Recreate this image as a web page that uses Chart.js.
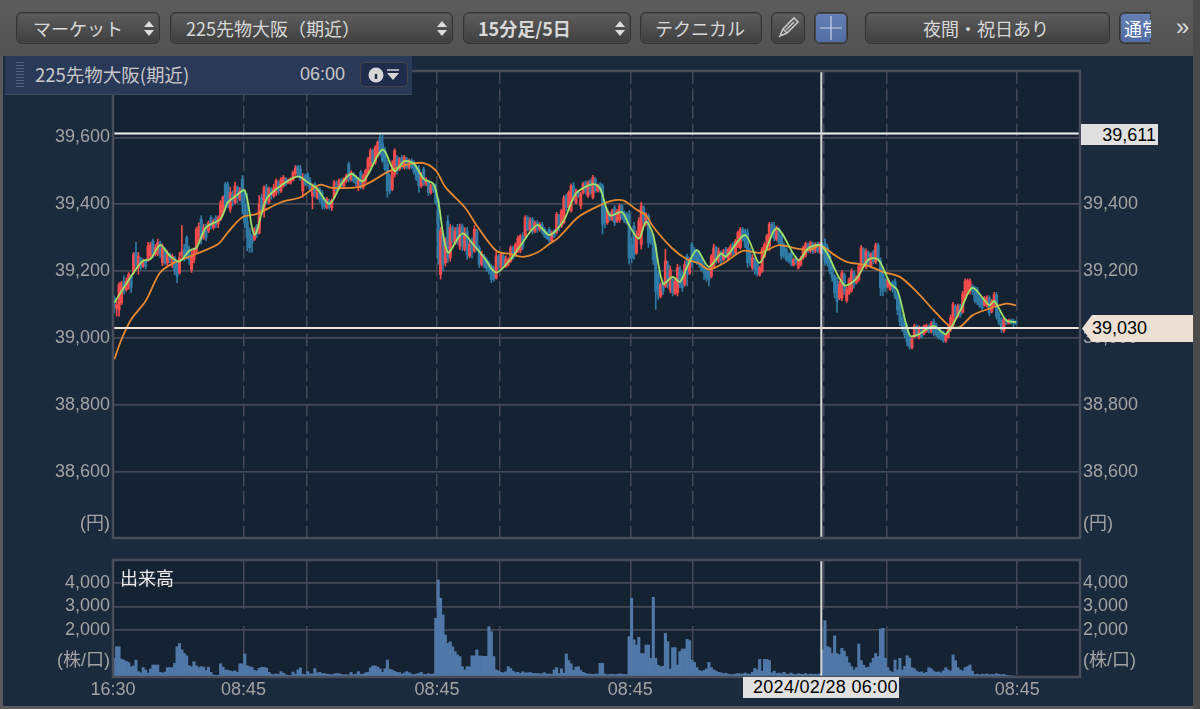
<!DOCTYPE html>
<html lang="ja"><head><meta charset="utf-8">
<script src="https://cdn.jsdelivr.net/npm/chart.js@4"></script>
<style>
html,body{margin:0;padding:0;width:1200px;height:709px;overflow:hidden;background:#5a5a5a}
#app{position:relative;width:1200px;height:709px;font-family:"Liberation Sans","Noto Sans CJK JP",sans-serif;overflow:hidden}
#toolbar{position:absolute;left:0;top:0;width:1200px;height:56px;background:linear-gradient(#5c5c5c,#525252)}
#panel{position:absolute;left:3px;top:56px;width:1190px;height:650px;background:#1b2a3d}
#edge{position:absolute;left:1193px;top:0;width:7px;height:709px;background:#4b4b4b}
canvas{position:absolute;left:0}
.btn{position:absolute;top:12px;height:32px;box-sizing:border-box;border:1px solid #333;border-radius:6px;background:linear-gradient(#5d5d5d,#3f3f3f);color:#d8d8d8;font:18px/30px "Noto Sans CJK JP",sans-serif;white-space:nowrap;box-shadow:0 0 0 1px #4a4a4a inset}
.btn.on{background:linear-gradient(#6580b4,#4f6ca3)}
.btn span.t{position:absolute;top:0}
.ud{position:absolute;top:8px;width:0;height:0}
.ud:before,.ud:after{content:"";position:absolute;left:-5px;border-left:5px solid transparent;border-right:5px solid transparent}
.ud:before{top:0;border-bottom:6px solid #ddd}.ud:after{top:9px;border-top:6px solid #ddd}
#info{position:absolute;left:5px;top:56px;width:407px;height:39px;background:#2b3958;border-bottom:1px solid #3d4a68;box-sizing:border-box;color:#c8c8c8}
#info .a{position:absolute;left:30px;top:5px;font:18.5px/26px "Noto Sans CJK JP",sans-serif}
#info .b{position:absolute;left:295px;top:7px;font:18px/22px "Liberation Sans",sans-serif}
#info .c{position:absolute;left:355px;top:6px;width:48px;height:25px;box-sizing:border-box;border:1px solid #454545;border-radius:5px;background:#1f2c4e}
#grip{position:absolute;left:11px;top:6px;width:8px;height:26px;background:repeating-linear-gradient(#56617c 0 1px,transparent 1px 3px)}
.lab{position:absolute;color:#000;font:18px/20px "Liberation Sans",sans-serif;white-space:nowrap}
</style></head><body>
<div id="app">
<div id="toolbar">
 <div class="btn" style="left:16px;width:144px"><span class="t" style="left:16px">マーケット</span><i class="ud" style="left:132px"></i></div>
 <div class="btn" style="left:170px;width:283px"><span class="t" style="left:15px">225先物大阪（期近）</span><i class="ud" style="left:271px"></i></div>
 <div class="btn" style="left:463px;width:168px"><span class="t" style="left:14px;font-weight:700">15分足/5日</span><i class="ud" style="left:156px"></i></div>
 <div class="btn" style="left:640px;width:122px"><span class="t" style="left:14px">テクニカル</span></div>
 <div class="btn" style="left:771px;width:34px"><svg width="32" height="30" style="position:absolute;left:0;top:0"><path d="M8 23l3-7 11-11 4 4-11 11zM11 16l4 4M14 17l8-8" fill="none" stroke="#c8c8c8" stroke-width="1.6"/></svg></div>
 <div class="btn on" style="left:814px;width:34px"><svg width="32" height="30" style="position:absolute;left:0;top:0"><path d="M16 3v24M5 15h22" stroke="#c9d2e6" stroke-width="1.2"/></svg></div>
 <div class="btn" style="left:865px;width:245px"><span class="t" style="left:57px">夜間・祝日あり</span></div>
 <div class="btn on" style="left:1119px;width:32px;border-right:0;border-radius:6px 0 0 6px;overflow:hidden;color:#fff"><span class="t" style="left:4px">通常</span></div>
 <div style="position:absolute;left:1176px;top:13px;color:#ddd;font:24px/28px 'Liberation Sans',sans-serif">»</div>
</div>
<div id="panel"></div>
<canvas id="priceChart" width="1200" height="485" style="top:60px"></canvas>
<canvas id="volumeChart" width="1200" height="159" style="top:550px"></canvas>
<div id="info"><div id="grip"></div><div class="a">225先物大阪(期近)</div><div class="b">06:00</div>
 <div class="c"><svg width="46" height="23"><circle cx="15" cy="12" r="7.5" fill="#d6d6d6"/><path d="M15 8.2v.1M15 11v5" stroke="#1f2c4e" stroke-width="2.4"/><path d="M26 7h12" stroke="#d6d6d6" stroke-width="1.5"/><path d="M26 10h12l-6 7z" fill="#d6d6d6"/></svg></div></div>
<div style="position:absolute;left:120px;top:565px;color:#eee;font:18px/24px 'Noto Sans CJK JP',sans-serif">出来高</div>
<div class="lab" style="left:1081px;top:124px;width:77px;height:21px;background:#e0e0e0;text-align:right;line-height:22px;padding-right:2px;box-sizing:border-box">39,611</div>
<div class="lab" style="left:1082px;top:315px;width:112px;height:27px;background:#ebe0d3;clip-path:polygon(0 50%,10px 0,100% 0,100% 100%,10px 100%);line-height:27px;text-indent:10px">39,030</div>
<div class="lab" style="left:743px;top:677px;width:156px;height:21px;background:#e0e0e0;line-height:21px;text-indent:10px;letter-spacing:.3px">2024/02/28 06:00</div>
<div id="edgeb" style="position:absolute;left:0;top:706px;width:1200px;height:3px;background:#5a5a5a"></div>
<div id="edge"></div>
</div>
<script>
const opens=[
39120,39090,39085,39105,39170,39145,39155,39185,39195,39255,
39210,39240,39215,39232,39235,39245,39290,39250,39255,39285,
39225,39265,39225,39250,39220,39240,39225,39195,39245,39265,
39300,39265,39205,39235,39260,39300,39355,39300,39335,39320,
39360,39330,39360,39340,39355,39375,39460,39455,39385,39430,
39405,39450,39415,39475,39400,39350,39320,39305,39295,39335,
39315,39420,39380,39450,39405,39445,39425,39435,39465,39440,
39455,39475,39462,39465,39472,39490,39512,39505,39440,39485,
39490,39470,39425,39460,39420,39445,39435,39415,39390,39410,
39390,39420,39462,39450,39470,39455,39470,39520,39475,39490,
39480,39450,39495,39450,39470,39495,39515,39560,39525,39545,
39600,39580,39560,39520,39480,39445,39490,39540,39505,39540,
39510,39535,39510,39530,39525,39510,39505,39455,39505,39460,
39468,39435,39458,39445,39415,39190,39310,39225,39350,39240,
39330,39285,39330,39275,39335,39265,39320,39245,39285,39260,
39318,39270,39220,39245,39235,39225,39215,39205,39180,39245,
39212,39245,39215,39220,39230,39270,39248,39260,39262,39305,
39305,39360,39325,39355,39320,39345,39325,39340,39325,39315,
39325,39290,39320,39315,39365,39335,39345,39425,39390,39380,
39455,39405,39435,39395,39435,39465,39425,39470,39420,39475,
39440,39460,39455,39390,39345,39372,39355,39390,39350,39352,
39395,39375,39370,39370,39280,39335,39255,39305,39280,39390,
39340,39365,39310,39300,39270,39190,39125,39165,39155,39220,
39145,39175,39135,39135,39205,39190,39160,39245,39195,39280,
39265,39255,39255,39235,39215,39205,39200,39185,39215,39270,
39230,39255,39235,39265,39240,39250,39280,39255,39275,39270,
39325,39320,39315,39260,39210,39235,39225,39190,39200,39245,
39270,39275,39340,39335,39295,39325,39305,39280,39265,39250,
39255,39218,39240,39210,39220,39240,39248,39280,39260,39282,
39260,39282,39258,39280,39285,39270,39245,39218,39185,39170,
39120,39120,39190,39112,39135,39142,39195,39165,39175,39205,
39265,39212,39255,39215,39258,39228,39278,39232,39200,39175,
39155,39146,39165,39170,39130,39110,39060,39040,39030,39005,
38972,39003,39035,39002,39030,39012,39020,39036,39020,39050,
39040,39028,39020,39018,38992,39002,39025,39040,39095,39066,
39098,39078,39118,39135,39140,39155,39148,39145,39122,39115,
39098,39096,39120,39080,39100,39130,39072,39055,39022,39052,
39044,39054,39052,39050];
const closes=[
39090,39100,39160,39165,39140,39170,39190,39150,39250,39220,
39245,39215,39230,39215,39275,39280,39250,39270,39285,39250,
39270,39225,39250,39235,39245,39200,39185,39240,39260,39240,
39245,39235,39245,39265,39325,39335,39295,39330,39300,39345,
39335,39350,39340,39360,39405,39420,39395,39400,39435,39410,
39455,39420,39440,39400,39345,39300,39270,39285,39325,39310,
39400,39385,39450,39415,39445,39425,39450,39470,39440,39475,
39480,39460,39472,39475,39495,39510,39490,39475,39480,39460,
39465,39445,39455,39430,39445,39415,39400,39392,39415,39390,
39410,39465,39440,39470,39455,39475,39485,39475,39495,39470,
39462,39470,39452,39485,39500,39535,39560,39525,39570,39585,
39555,39530,39505,39440,39440,39500,39560,39500,39535,39512,
39540,39510,39530,39510,39495,39475,39455,39490,39462,39472,
39435,39455,39440,39405,39240,39320,39220,39290,39240,39330,
39290,39320,39290,39330,39275,39315,39250,39280,39260,39325,
39265,39220,39250,39220,39210,39200,39175,39178,39245,39215,
39250,39215,39235,39235,39270,39240,39280,39298,39305,39272,
39360,39325,39350,39320,39345,39325,39340,39318,39305,39298,
39292,39312,39305,39370,39330,39380,39420,39390,39435,39455,
39420,39440,39425,39430,39462,39440,39465,39435,39480,39440,
39458,39445,39340,39345,39380,39355,39380,39345,39380,39395,
39360,39350,39345,39240,39240,39250,39310,39350,39395,39350,
39365,39285,39290,39235,39140,39130,39160,39140,39230,39170,
39205,39135,39170,39210,39160,39150,39220,39190,39235,39225,
39235,39230,39220,39205,39195,39180,39175,39245,39270,39235,
39260,39230,39258,39245,39265,39275,39252,39290,39315,39325,
39295,39275,39225,39225,39240,39205,39195,39210,39265,39280,
39305,39340,39310,39300,39330,39285,39245,39250,39235,39230,
39222,39235,39225,39232,39240,39270,39282,39262,39285,39258,
39280,39262,39282,39258,39225,39225,39200,39180,39135,39110,
39160,39195,39140,39145,39175,39200,39160,39183,39215,39270,
39225,39260,39220,39250,39228,39278,39235,39150,39140,39150,
39175,39162,39145,39125,39085,39050,39030,39010,38990,38975,
38998,39036,39010,39030,39005,39035,39038,39020,39044,39015,
39010,39002,39000,38992,39008,39030,39062,39100,39068,39095,
39070,39132,39170,39172,39170,39140,39112,39108,39098,39090,
39120,39122,39075,39110,39130,39065,39048,39025,39055,39045,
39054,39046,39045,39044];
const highs=[
39126,39110,39166,39170,39186,39180,39196,39190,39256,39286,
39256,39240,39236,39236,39286,39286,39296,39280,39296,39290,
39281,39270,39261,39255,39251,39245,39231,39256,39336,39280,
39306,39275,39261,39270,39331,39345,39366,39340,39341,39350,
39366,39355,39366,39365,39411,39425,39466,39466,39451,39440,
39466,39455,39450,39486,39440,39431,39330,39311,39331,39340,
39426,39430,39456,39460,39451,39450,39460,39476,39470,39480,
39486,39480,39476,39480,39500,39516,39516,39516,39491,39490,
39496,39480,39461,39465,39450,39451,39441,39420,39421,39415,
39416,39471,39470,39476,39476,39480,39490,39526,39500,39495,
39486,39480,39501,39490,39505,39540,39566,39565,39575,39590,
39611,39606,39570,39531,39490,39530,39566,39545,39540,39546,
39546,39540,39535,39536,39530,39516,39516,39495,39511,39480,
39471,39460,39461,39461,39420,39331,39320,39300,39366,39340,
39336,39330,39340,39341,39341,39330,39331,39290,39300,39336,
39325,39276,39260,39250,39240,39231,39221,39215,39256,39250,
39256,39250,39246,39240,39276,39275,39285,39305,39310,39315,
39366,39366,39360,39361,39350,39351,39345,39346,39330,39320,
39331,39320,39325,39376,39370,39385,39426,39430,39440,39461,
39465,39445,39440,39436,39466,39470,39470,39475,39486,39480,
39461,39465,39461,39400,39385,39376,39385,39396,39385,39401,
39400,39380,39375,39381,39300,39346,39320,39360,39406,39395,
39375,39371,39320,39310,39281,39201,39165,39170,39266,39230,
39216,39181,39180,39221,39215,39200,39230,39251,39240,39286,
39270,39265,39261,39240,39225,39211,39211,39250,39281,39275,
39270,39261,39265,39271,39270,39280,39286,39295,39320,39331,
39330,39326,39326,39270,39250,39240,39231,39215,39271,39285,
39310,39346,39346,39346,39335,39330,39311,39285,39270,39255,
39261,39240,39245,39236,39245,39275,39287,39285,39290,39287,
39285,39287,39287,39285,39297,39280,39252,39225,39190,39182,
39170,39202,39195,39152,39180,39207,39200,39187,39220,39277,
39270,39267,39260,39255,39262,39284,39284,39240,39212,39180,
39180,39167,39172,39177,39140,39117,39070,39050,39042,39010,
39002,39042,39040,39037,39035,39040,39042,39040,39050,39057,
39045,39032,39025,39022,39012,39040,39070,39107,39100,39102,
39102,39140,39177,39177,39177,39160,39155,39152,39127,39120,
39125,39127,39127,39115,39137,39137,39080,39062,39060,39057,
39057,39057,39057,39052];
const lows=[
39076,39066,39066,39100,39131,39140,39146,39136,39191,39210,
39191,39205,39211,39206,39230,39236,39240,39245,39246,39240,
39216,39220,39216,39225,39211,39190,39166,39191,39241,39230,
39236,39220,39196,39225,39255,39290,39281,39295,39291,39315,
39326,39325,39331,39330,39351,39370,39381,39390,39376,39395,
39401,39405,39410,39371,39330,39261,39256,39256,39291,39300,
39311,39370,39361,39400,39401,39415,39420,39426,39430,39435,
39451,39455,39461,39460,39470,39486,39480,39471,39421,39455,
39456,39440,39386,39420,39415,39406,39386,39385,39386,39385,
39381,39416,39430,39445,39451,39450,39465,39466,39470,39465,
39456,39440,39446,39445,39465,39490,39511,39520,39520,39540,
39546,39525,39500,39421,39431,39440,39481,39490,39500,39506,
39505,39505,39505,39506,39490,39470,39436,39450,39456,39455,
39426,39430,39435,39400,39221,39176,39200,39215,39226,39230,
39281,39280,39280,39265,39261,39260,39236,39240,39240,39256,
39260,39211,39215,39210,39200,39191,39166,39170,39176,39205,
39206,39210,39211,39215,39226,39235,39245,39255,39255,39265,
39300,39320,39320,39311,39315,39316,39320,39311,39300,39295,
39286,39285,39300,39311,39320,39330,39341,39380,39385,39376,
39410,39400,39420,39386,39431,39430,39420,39430,39416,39435,
39436,39435,39311,39330,39340,39351,39350,39336,39345,39346,
39355,39345,39340,39221,39225,39236,39250,39300,39266,39340,
39335,39271,39281,39220,39086,39116,39120,39130,39151,39150,
39136,39126,39130,39126,39150,39140,39155,39156,39190,39211,
39225,39220,39211,39200,39175,39170,39156,39180,39211,39225,
39225,39221,39230,39236,39235,39245,39246,39250,39270,39266,
39290,39270,39211,39215,39205,39190,39186,39185,39196,39240,
39265,39261,39300,39291,39290,39280,39236,39240,39230,39225,
39216,39215,39220,39206,39215,39235,39242,39255,39255,39252,
39255,39255,39252,39250,39217,39215,39192,39170,39120,39077,
39115,39112,39130,39107,39130,39137,39150,39162,39170,39202,
39215,39207,39215,39210,39222,39222,39230,39127,39127,39140,
39150,39142,39137,39117,39070,39037,39020,39000,38977,38967,
38967,39000,39005,38997,39000,39010,39017,39015,39015,39007,
39005,38997,38995,38987,38987,39000,39020,39032,39060,39062,
39062,39075,39112,39130,39132,39130,39105,39100,39092,39085,
39095,39092,39067,39075,39095,39057,39040,39017,39017,39040,
39042,39042,39032,39040];
const volumes=[
800,1290,1290,760,720,660,620,440,470,720,
230,180,400,300,170,340,510,510,510,200,
170,210,390,400,400,580,1290,1430,1150,1000,
900,480,430,650,480,400,440,420,280,420,
200,90,70,80,560,420,300,290,260,230,
260,200,560,560,980,480,440,410,280,260,
370,410,410,380,200,120,100,130,110,230,
160,90,70,70,210,120,300,390,120,100,
230,140,130,360,170,200,150,140,120,110,
100,130,150,140,110,90,100,90,200,100,
120,230,120,130,180,200,390,470,470,420,
350,200,350,720,330,300,240,200,190,120,
170,230,180,120,100,130,150,200,120,110,
140,120,130,2500,4130,3350,2640,1790,1430,1500,
1290,1080,940,870,440,300,440,440,900,900,
1150,900,890,880,880,2140,1930,870,300,260,
200,180,220,440,360,250,180,200,150,220,
180,170,190,160,150,150,130,140,180,120,
130,120,300,400,150,350,160,980,700,560,
280,420,440,280,200,150,130,120,110,120,
130,580,580,130,100,110,120,100,110,130,
120,110,100,1720,3350,1580,1360,1690,1000,1000,
1360,1360,800,3390,800,500,440,460,1860,1500,
340,1250,1250,510,1080,1190,1190,1600,1550,720,
620,400,280,240,280,340,620,400,300,250,
200,180,140,160,120,100,110,120,150,130,
130,170,130,120,200,370,300,750,250,750,
750,700,180,250,140,170,130,200,130,110,
170,120,100,140,120,110,150,100,130,110,
120,110,140,1150,2400,1300,1250,1000,1750,1000,
950,1220,1100,870,600,440,300,400,1400,700,
500,400,420,600,800,1000,870,2040,2070,800,
400,250,200,720,300,800,300,450,900,800,
400,350,250,200,220,150,200,400,350,250,
200,220,180,260,400,300,250,940,700,400,
300,250,400,440,510,250,100,120,90,120,
100,130,90,110,100,140,120,90,110,70,
60,50,40,30];
const fastIdx=[0,4,9,12,15,19,23,27,31,34,38,44,47,50,54,58,63,69,76,80,84,89,94,98,103,111,116,120,124,128,132,134,138,144,149,153,158,164,168,175,180,186,191,198,201,205,210,213,217,220,223,227,231,234,237,241,246,251,253,261,267,274,283,287,292,295,302,307,312,316,321,324,329,332,339,344,350,355,362,364,369,373];
const fastVal=[39106,39151,39206,39231,39236,39278,39246,39229,39261,39270,39331,39356,39406,39423,39441,39309,39416,39456,39483,39466,39446,39401,39461,39491,39469,39563,39499,39529,39521,39476,39461,39411,39256,39313,39276,39241,39196,39236,39276,39338,39308,39352,39432,39460,39447,39367,39377,39337,39297,39347,39307,39163,39183,39168,39213,39263,39213,39253,39243,39308,39225,39328,39233,39268,39278,39252,39158,39178,39235,39235,39163,39143,39009,39009,39036,39012,39083,39150,39098,39111,39053,39048];
const slowIdx=[0,3,7,13,19,25,33,43,47,53,59,69,77,85,90,101,106,113,121,128,133,137,145,150,158,164,169,175,180,184,192,201,207,211,216,220,223,231,237,242,246,253,260,267,275,282,288,292,298,303,311,318,325,332,339,346,350,355,362,369,373];
const slowVal=[38936,38996,39056,39111,39196,39226,39249,39281,39316,39361,39371,39406,39421,39458,39449,39451,39466,39496,39518,39523,39501,39451,39391,39336,39261,39251,39243,39256,39281,39302,39362,39397,39412,39410,39384,39367,39332,39267,39235,39223,39205,39228,39261,39255,39278,39268,39264,39277,39248,39228,39218,39198,39183,39138,39083,39034,39034,39068,39088,39103,39098];
const levelValues=[39611,39030];
const levelColors=["#f2f2f2","#f0e6d8"];
const priceTicks=[38600,38800,39000,39200,39400,39600];
const volumeTicks=[2000,3000,4000];
const PRICE_UNIT_TICK=38445, VOLUME_UNIT_TICK=680;
const gridIdx=[54,80,134,160,214,240,294,320,374];
const timeTickIdx=[0,54,134,214,294,374];
const timeTickText=["16:30","08:45","08:45","08:45","08:45","08:45"];
const CROSSHAIR_IDX=293;
const SLOTS=400;
const categories=Array.from({length:SLOTS},(_,i)=>String(i));
const UP="#f24b4b",DOWN="#2f7ba6",GRID="#434854",FRAME="#484d5a",TXT="#a3a3a3";
const FONT="'Liberation Sans','Noto Sans CJK JP',sans-serif";
const candleColor=opens.map((o,i)=>closes[i]>=o?UP:DOWN);
const toXY=(ix,v)=>ix.map((k,i)=>({x:String(k),y:v[i]}));
const panelPlugin={id:"panel",
 beforeDraw(c){const a=c.chartArea,g=c.ctx;g.save();g.fillStyle="#152232";g.fillRect(a.left,a.top,a.width,a.height);g.restore();},
 afterDatasetsDraw(c){const a=c.chartArea,g=c.ctx,s=c.scales.x,x=s.getPixelForValue(CROSSHAIR_IDX)-(s.getPixelForValue(1)-s.getPixelForValue(0))/2;
  g.save();g.strokeStyle="#d9d9d9";g.lineWidth=2;g.beginPath();g.moveTo(x,a.top);g.lineTo(x,a.bottom);g.stroke();
  g.strokeStyle=FRAME;g.lineWidth=2.5;g.strokeRect(a.left,a.top,a.width,a.height);g.restore();}};
function xAxis(dash,showText,h){return {type:"category",offset:true,
 grid:{offset:true,drawTicks:false,lineWidth:1.5,color:ctx=>gridIdx.includes(ctx.tick&&ctx.tick.value)?GRID:"rgba(0,0,0,0)"},
 border:{display:false,dash:dash},
 ticks:{display:showText,autoSkip:false,maxRotation:0,minRotation:0,padding:2,labelOffset:-1.2,color:TXT,font:{family:FONT,size:18},
  callback:v=>{const k=timeTickIdx.indexOf(v);return k<0?"":timeTickText[k];}},
 afterFit(s){s.height=h;s.paddingLeft=0;s.paddingRight=0;}};}
function yAxis(pos,w,min,max,vals,unit,unitText){return {type:"linear",position:pos,min,max,
 grid:{drawTicks:false,lineWidth:1.5,color:ctx=>ctx.tick&&ctx.tick.value===unit?"rgba(0,0,0,0)":GRID},
 border:{display:false},
 afterBuildTicks(s){s.ticks=vals.concat([unit]).map(v=>({value:v}));},
 ticks:{autoSkip:false,padding:3,color:TXT,font:{family:FONT,size:18},callback:v=>v===unit?unitText:v.toLocaleString("en-US")},
 afterFit(s){s.width=w;s.paddingTop=0;s.paddingBottom=0;}};}
const common={responsive:false,animation:false,devicePixelRatio:1,plugins:{legend:{display:false},tooltip:{enabled:false}}};
new Chart(document.getElementById("priceChart"),{plugins:[panelPlugin],data:{labels:categories,datasets:[
 {type:"line",order:1,label:"level1",data:[{x:"0",y:levelValues[0]},{x:String(SLOTS-1),y:levelValues[0]}],borderColor:levelColors[0],borderWidth:2,pointRadius:0},
 {type:"line",order:1,label:"level2",data:[{x:"0",y:levelValues[1]},{x:String(SLOTS-1),y:levelValues[1]}],borderColor:levelColors[1],borderWidth:2,pointRadius:0},
 {type:"line",order:2,label:"fast",data:toXY(fastIdx,fastVal),borderColor:"#9fe066",borderWidth:1.8,pointRadius:0,tension:.3},
 {type:"line",order:3,label:"slow",data:toXY(slowIdx,slowVal),borderColor:"#e8892f",borderWidth:1.8,pointRadius:0,tension:.3},
 {type:"bar",order:4,grouped:false,label:"body",data:opens.map((o,i)=>[o,closes[i]]),backgroundColor:candleColor,barThickness:2.4,minBarLength:1},
 {type:"bar",order:5,grouped:false,label:"wick",data:lows.map((l,i)=>[l,highs[i]]),backgroundColor:candleColor,barThickness:1}
]},options:{...common,layout:{padding:{top:11,bottom:7,left:0,right:0}},scales:{
 x:xAxis([12.8,4.7],false,0),
 y:yAxis("left",113,38403,39798,priceTicks,PRICE_UNIT_TICK,"(円)"),
 y2:yAxis("right",120,38403,39798,priceTicks,PRICE_UNIT_TICK,"(円)")}}});
new Chart(document.getElementById("volumeChart"),{plugins:[panelPlugin],data:{labels:categories,datasets:[
 {type:"bar",label:"volume",data:volumes,backgroundColor:"#4f78a8",barPercentage:1,categoryPercentage:1,borderWidth:0}
]},options:{...common,layout:{padding:{top:10,bottom:0,left:0,right:0}},scales:{
 x:xAxis([49,17],true,32),
 y:yAxis("left",113,0,4979,volumeTicks,VOLUME_UNIT_TICK,"(株/口)"),
 y2:yAxis("right",120,0,4979,volumeTicks,VOLUME_UNIT_TICK,"(株/口)")}}});
</script>
</body></html>
